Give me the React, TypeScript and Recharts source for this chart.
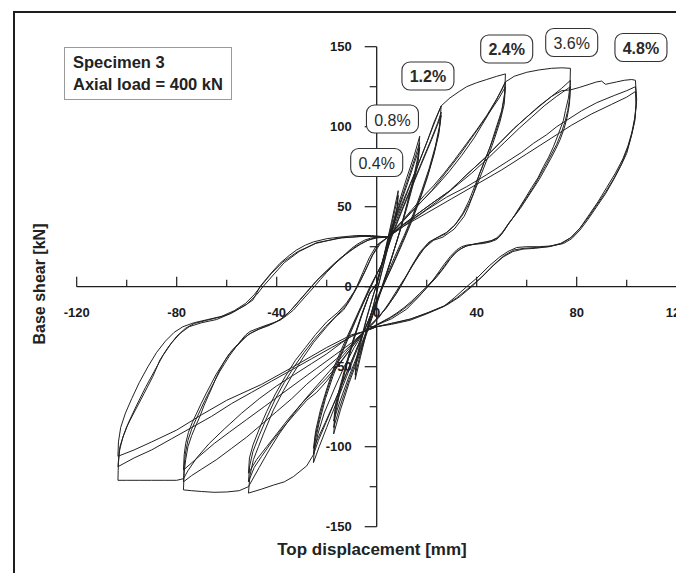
import { Line, LineChart, ReferenceDot, ReferenceLine, XAxis, YAxis } from "recharts";

type Pt = [number, number];

// axis ticks
const xTicks = [-120, -80, -40, 0, 40, 80, 120];
const xMinorTicks = [-100, -60, -20, 20, 60, 100];
const yTicks = [-150, -100, -50, 0, 50, 100, 150];
const yMinorTicks = [-125, -75, -25, 25, 75, 125];

// drift level tags (data coords of the box centre)
const driftLabels = [
  { text: "0.4%", x: 0, y: 77.6, bold: false },
  { text: "0.8%", x: 6.3, y: 104.8, bold: false },
  { text: "1.2%", x: 20.5, y: 131.7, bold: true },
  { text: "2.4%", x: 52, y: 148.6, bold: true },
  { text: "3.6%", x: 78, y: 152.6, bold: false },
  { text: "4.8%", x: 105.7, y: 149.5, bold: true },
];

// hysteresis cycles, [displacement mm, shear kN]
const loop04a: Pt[] = [[0, 2], [3, 20], [6, 41], [8.6, 60], [8.2, 50], [6.5, 38], [4, 22], [1.5, 6], [-1, -10], [-4, -28], [-6.5, -44], [-8.6, -58], [-8.2, -48], [-6.5, -36], [-4, -20], [-1.5, -6], [0, 2]];
const loop04b: Pt[] = [[0, 1], [3, 19], [6, 39], [8.6, 57], [8.1, 47], [6.3, 35], [3.8, 20], [1.2, 4], [-1.2, -11], [-4, -27], [-6.5, -42], [-8.6, -55], [-8.1, -45], [-6.3, -33], [-3.8, -18], [-1.3, -5], [0, 1]];
const loop08a: Pt[] = [[0, 2], [4, 26], [8, 48], [12, 68], [15, 82], [17.2, 94], [16.6, 82], [15, 70], [12.5, 54], [9.5, 36], [6, 18], [3, 3], [0, -11], [-3.5, -27], [-7, -43], [-11, -60], [-14.5, -77], [-17.2, -92], [-16.6, -80], [-15, -68], [-12.5, -52], [-9.5, -35], [-6, -18], [-3, -5], [0, 2]];
const loop08b: Pt[] = [[0, 2], [4, 25], [8, 46], [12, 65], [15, 79], [17.2, 90], [16.5, 79], [14.8, 67], [12.3, 52], [9.3, 35], [5.8, 17], [2.8, 3], [-0.2, -11], [-3.7, -27], [-7.2, -42], [-11, -58], [-14.5, -74], [-17.2, -88], [-16.5, -77], [-14.8, -65], [-12.3, -50], [-9.3, -33], [-5.8, -17], [-2.8, -4], [0, 2]];
const loop08c: Pt[] = [[0, 1], [4, 24], [8, 45], [12, 63], [15, 77], [17.2, 87], [16.4, 76], [14.6, 64], [12, 49], [9, 33], [5.5, 16], [2.5, 2], [-0.5, -12], [-4, -27], [-7.5, -42], [-11.3, -57], [-14.8, -72], [-17.2, -84], [-16.4, -73], [-14.6, -62], [-12, -47], [-9, -31], [-5.5, -15], [-2.5, -3], [0, 1]];
const loop12a: Pt[] = [[2, 14], [5, 30], [9, 46], [13, 62], [17, 78], [21, 94], [24, 106], [25.8, 113], [25.2, 101], [23.5, 88], [21, 74], [18, 60], [14.5, 45], [11, 32], [7, 18], [3.5, 5], [0, -8], [-4, -24], [-8, -40], [-12, -56], [-16, -72], [-20, -88], [-23, -100], [-25.3, -110], [-24.8, -98], [-23, -85], [-20.5, -70], [-17.5, -56], [-14, -42], [-10.5, -29], [-7, -16], [-3.5, -4], [-0.5, 6], [2, 14]];
const loop12b: Pt[] = [[2, 14], [5.5, 30], [9.5, 46], [13.5, 61], [17.5, 76], [21.5, 91], [24.3, 102], [25.8, 109], [25, 98], [23.2, 85], [20.7, 71], [17.7, 57], [14.3, 43], [10.8, 30], [7, 16], [3.3, 3], [-0.3, -10], [-4.3, -25], [-8.3, -40], [-12.3, -55], [-16.3, -70], [-20.3, -85], [-23.3, -96], [-25.3, -105], [-24.6, -94], [-22.8, -81], [-20.3, -67], [-17.3, -53], [-13.8, -40], [-10.3, -27], [-6.8, -15], [-3.3, -3], [-0.3, 7], [2, 14]];
const loop12c: Pt[] = [[2, 13], [6, 31], [10, 47], [14, 62], [18, 77], [22, 92], [24.8, 103], [25.8, 107], [24.8, 95], [22.8, 82], [20.2, 68], [17.2, 54], [13.8, 40], [10.3, 27], [6.6, 14], [3, 2], [-0.6, -11], [-4.6, -26], [-8.6, -41], [-12.6, -56], [-16.6, -71], [-20.6, -85], [-23.6, -95], [-25.3, -101], [-24.4, -90], [-22.5, -77], [-20, -64], [-17, -50], [-13.5, -37], [-10, -25], [-6.5, -13], [-3, -1], [0, 8], [2, 13]];

const loop24a: Pt[] = [[4.5, 31], [8, 44], [12, 59], [16, 74], [20, 90], [23, 103], [25.8, 113], [29.3, 118], [33, 122], [36, 125], [40, 127.5], [44, 129.5], [48, 131.5], [51.5, 133],
  [51.2, 121], [50, 110], [47.5, 98], [45.3, 87], [43, 78], [41, 70], [38.7, 58], [36.5, 49], [35, 44], [31, 36], [26.5, 31], [22.7, 29], [19, 24], [15, 15], [11.5, 6], [9, 0], [5, -10], [1, -19], [-2, -24], [-5, -28],
  [-9, -38], [-13, -50], [-17, -64], [-21, -79], [-23.5, -92], [-25.3, -105], [-28, -112], [-33.3, -118.7], [-37, -122], [-41.3, -124], [-46, -126.5], [-51.3, -129],
  [-50.7, -118], [-49.3, -108], [-47.3, -100], [-45.3, -92], [-41.3, -77], [-37.3, -65], [-33.3, -54], [-29.3, -44], [-25.3, -35], [-20, -25], [-16.5, -19], [-13.3, -14.6], [-10.5, -8], [-8, 0], [-5.5, 9], [-3, 18], [0, 26], [4.5, 31]];
const loop24b: Pt[] = [[4.5, 31], [9, 39], [14, 48], [19, 57], [22.7, 63], [27, 71], [31, 79], [36, 89.6], [40, 98], [44, 107], [47.5, 116], [50, 123], [51.5, 128],
  [51, 117], [49.5, 106], [47, 94], [44.5, 84], [42, 74], [39.5, 64], [37, 54], [34.5, 46], [31.5, 39], [28, 34], [24.5, 31], [21, 28], [17.5, 22], [14, 13], [11, 4], [8, -4], [4, -13], [0, -20], [-5, -28],
  [-9, -36], [-14.7, -48], [-20, -59], [-24, -66], [-28, -71], [-33, -80], [-38, -89], [-42, -97], [-46, -106], [-49, -113], [-51.3, -122],
  [-50.8, -112], [-49.5, -103], [-47, -93], [-44, -82], [-40.5, -70], [-37, -60], [-33, -50], [-29, -41], [-25, -33], [-20.5, -25], [-16, -18], [-12.5, -12], [-9.5, -5], [-7, 2], [-4.5, 10], [-2, 19], [1, 27], [4.5, 31]];
const loop24c: Pt[] = [[4.5, 31], [10, 40], [16, 50], [22, 60], [28, 72], [33, 82], [38, 93], [42, 102], [46, 111], [49, 118], [51.5, 125],
  [51, 114], [49.3, 103], [47, 92], [44.5, 81], [42, 71], [39.5, 61], [37, 52], [34, 44], [31, 38], [27.5, 33], [24, 30.5], [20.5, 27], [17, 20], [13.5, 11], [10.5, 3], [7.5, -5], [3.5, -14], [-0.5, -21], [-5, -28],
  [-10, -38], [-15, -48], [-20, -57], [-25, -65], [-30, -73], [-35, -82], [-40, -92], [-44, -100], [-48, -108], [-51.3, -116.6],
  [-50.9, -107], [-49.5, -99], [-47, -89], [-44, -78], [-40.5, -67], [-36.5, -56], [-32.5, -46], [-28.5, -38], [-24.5, -30], [-20, -22], [-15.5, -16], [-12, -10], [-9, -3], [-6.5, 4], [-4, 12], [-1.5, 20], [1.5, 27], [4.5, 31]];

const loop36a: Pt[] = [[4.5, 31], [9, 39], [14, 47], [19, 55], [24, 63], [29, 72], [34, 82], [39, 93], [44, 106], [48, 117], [51.5, 128], [55, 131.5], [60, 134], [65, 135.5], [70, 136.5], [74, 136.8], [77.5, 136.5],
  [77.3, 125], [76.7, 118], [75.5, 110], [74.7, 104], [72.8, 96], [70.7, 87.5], [68.8, 81], [66.7, 75], [64.5, 68], [62, 62], [59.7, 56], [57.3, 50], [54.7, 43.5], [52, 37.5], [50, 33], [48, 29.5], [45.5, 28], [42.7, 27], [39, 26.5], [36, 26], [34, 25], [32, 23], [29.5, 19], [27, 14], [24.5, 8.5], [22, 3], [19.5, -1.5], [17, -6], [14.5, -10], [12, -14], [9, -17], [6, -20], [3, -22], [0, -24], [-5, -28],
  [-9, -35], [-14, -44], [-19, -53], [-24, -62], [-29, -71], [-34, -81], [-39, -92], [-43, -102], [-47, -113], [-51.3, -125], [-55, -127.5], [-60, -128.3], [-65, -128.5], [-70, -128], [-74, -127.5], [-77.3, -127],
  [-77, -116], [-76.4, -108], [-75.5, -100], [-74, -93], [-72.4, -87], [-70.7, -81], [-69, -74], [-67.3, -68], [-65.6, -62], [-64, -56], [-62.4, -51], [-60.7, -46], [-59, -42], [-57.3, -39.6], [-55.5, -36], [-54, -33], [-52.3, -30], [-50.7, -28], [-47.5, -26], [-44, -24], [-41.3, -22.5], [-38.7, -21], [-36, -18], [-33.3, -14.6], [-31, -10.5], [-29, -7], [-27, -3.5], [-25, 0], [-22.5, 4.5], [-20, 9], [-17.5, 13], [-15, 17], [-12.5, 20.5], [-10, 24], [-7.5, 26.8], [-5, 29], [-2.5, 30.3], [0, 31], [4.5, 31]];
const loop36b: Pt[] = [[4.5, 31], [9.3, 37.5], [15, 44], [22, 52], [29.3, 60], [36, 70], [43, 80], [49.3, 90], [55, 99], [60, 106], [65.3, 113], [70, 119], [74, 124], [77.5, 129],
  [77.2, 118], [76.4, 110], [75.3, 103], [73.8, 96], [72, 89], [70, 83], [68, 77], [65.5, 70], [63, 63], [60.5, 57], [58, 51], [55.5, 45], [53, 40], [51, 35], [49, 31], [46.5, 29], [43.5, 28], [40, 27], [37, 26], [34.5, 24.5], [32, 22], [29.5, 17.5], [27, 12], [24, 6], [21, 1], [18, -4], [15, -8.5], [12, -12.5], [9, -16], [6, -19], [3, -21.5], [0, -24], [-5, -28],
  [-10, -36], [-16, -45], [-22, -53], [-28, -61], [-34, -70], [-40, -78], [-46, -86], [-52, -94], [-58, -101], [-64, -108], [-70, -114], [-74, -118], [-77.3, -122],
  [-77, -112], [-76.5, -104], [-75.5, -96], [-74, -89], [-72.3, -83], [-70.5, -77], [-68.7, -71], [-66.8, -65], [-64.8, -59], [-62.8, -53], [-60.8, -48], [-58.8, -43], [-56.5, -38], [-54, -34], [-51.5, -30], [-48.5, -27.5], [-45, -25], [-41.5, -23], [-38.5, -20.5], [-35.5, -16.5], [-33, -12.5], [-30.5, -8], [-28, -3.5], [-25.5, 1], [-23, 5.5], [-20, 10], [-17, 14.5], [-14, 18.5], [-11, 22], [-8, 25.5], [-5, 28], [-2, 30], [1, 31], [4.5, 31]];
const loop36c: Pt[] = [[4.5, 31], [10, 38], [17, 45], [24, 53], [31, 62], [38, 71], [45, 81], [51, 90], [57, 99], [62, 106], [67, 113], [72, 119], [77.5, 125],
  [77.1, 114], [76.2, 106], [75, 99], [73.4, 92], [71.6, 86], [69.6, 80], [67.5, 74], [65, 67], [62.5, 61], [60, 55], [57.5, 49], [55, 44], [52.5, 39], [50.3, 34], [48, 30.5], [45.5, 28.5], [42.5, 27.5], [39, 26.5], [36, 25.5], [33.5, 23.5], [31, 20.5], [28.5, 16], [26, 10.5], [23, 5], [20, 0], [17, -4.5], [14, -9], [11, -13], [8, -16.5], [5, -19.5], [2, -22], [-1, -24.5], [-5, -28],
  [-10, -35], [-17, -43], [-24, -51], [-31, -59], [-38, -67], [-45, -75], [-52, -83], [-59, -91], [-65, -98], [-71, -106], [-77.3, -114.6],
  [-77, -105], [-76.4, -98], [-75.3, -91], [-73.8, -85], [-72, -79], [-70.2, -73], [-68.3, -67], [-66.3, -61], [-64.3, -55], [-62.3, -50], [-60.2, -45], [-58, -40], [-55.6, -36], [-53, -32], [-50.3, -29], [-47, -26.5], [-43.5, -24.5], [-40.2, -22], [-37.2, -19], [-34.5, -15], [-32, -10.5], [-29.5, -6], [-27, -1.5], [-24.5, 3], [-21.5, 7.5], [-18.5, 12], [-15.5, 16], [-12.5, 20], [-9.5, 23.5], [-6.5, 26.5], [-3.5, 29], [0, 30.5], [4.5, 31]];

const loop48a: Pt[] = [[4.5, 31], [9.3, 37], [15, 44], [22, 52], [29.3, 60], [36, 70], [43, 80], [49.3, 90], [55, 99], [60, 106], [65, 113], [70, 119], [74, 122.5], [77.5, 123], [81, 124.5], [85, 126.5], [88, 128], [90, 128.5], [91.5, 126.5], [93, 127], [96, 128], [99, 129], [102, 129.5], [103.5, 129],
  [103.8, 121], [103.7, 113], [103.3, 106], [102.7, 100], [101.5, 92], [100, 83.3], [97.5, 75], [94.7, 66.7], [91.5, 58], [88, 50], [84.5, 42], [81.3, 35.4], [78, 30], [74.7, 27], [70, 25.5], [65, 25], [60, 25], [56, 24.5], [52.5, 22], [49.3, 18.7], [45, 13], [40.5, 6], [36, 0], [31, -7], [26.7, -12.5], [20, -17], [13.3, -21], [6, -23.5], [0, -25], [-5, -28],
  [-9.3, -30], [-14, -35], [-20, -42], [-26, -48], [-33, -55], [-40, -62], [-47, -70], [-54, -79], [-61, -89], [-67, -98], [-72, -107], [-75.5, -115], [-77.3, -120], [-80, -121], [-85, -121], [-90, -121], [-95, -121], [-100, -121], [-103.5, -121],
  [-103.4, -115], [-103.3, -110], [-102.7, -100], [-101.5, -94], [-100, -87.5], [-96.5, -77], [-93, -66.6], [-89.5, -56], [-86.7, -45.8], [-83.5, -38], [-80, -31], [-76.5, -26], [-73, -23], [-68, -21], [-62.7, -19], [-59, -17], [-56, -14.6], [-52.5, -11.5], [-49.5, -8.3], [-46.7, 0], [-42.5, 8], [-38.7, 14.6], [-35, 19.5], [-32, 23], [-28.5, 26], [-25.3, 28], [-20, 30], [-14.7, 31], [-8, 32], [-2, 32], [4.5, 31]];
const loop48b: Pt[] = [[4.5, 31], [10, 37], [20, 48], [28, 56], [36, 62.5], [44, 70], [52, 78], [58, 84], [62.7, 89.6], [68, 95], [72, 100], [76, 104], [82, 110], [88, 115], [95, 119.5], [100, 122.5], [103.5, 125],
  [104, 117], [103.3, 106], [102, 96], [100.5, 88], [98.5, 80], [95.5, 71], [92, 62], [88.5, 53], [85, 45], [81.5, 37], [78, 31], [74, 27], [69, 25], [64, 24.5], [59, 24], [55, 23], [51, 19.5], [47, 14], [42, 6], [37.5, 0], [32, -7], [27, -12], [20, -16.5], [13, -20.5], [6, -23], [0, -25], [-5, -28],
  [-10, -31], [-18, -38], [-26, -45], [-34, -52], [-42, -59], [-50, -66], [-58, -73], [-66, -81], [-74, -88], [-82, -95], [-90, -102], [-97, -107], [-103.5, -112.5],
  [-103, -103], [-101.5, -94], [-99, -84], [-96, -74], [-92.5, -63], [-89, -53], [-85.5, -43], [-82, -35], [-78.5, -29], [-75, -25], [-70, -22.5], [-64, -20.5], [-58, -16.5], [-52, -11], [-48, -5], [-45.5, 0], [-41, 8], [-37, 15], [-31, 22], [-24, 27.5], [-14, 30.5], [-5, 31.5], [4.5, 31]];
const loop48c: Pt[] = [[4.5, 31], [11, 38], [20, 46], [30, 55], [40, 64], [50, 73], [60, 83], [70, 93], [78, 101], [86, 108], [94, 114], [100, 118.5], [103.5, 122],
  [103.8, 114], [103.3, 104], [102, 95], [100.3, 86], [98, 77], [95, 68], [91.5, 59], [88, 51], [84.5, 43], [81, 36], [77.5, 30.5], [73.5, 27], [68.5, 25], [63.5, 24], [58.5, 23.5], [54.5, 22], [50.5, 18.5], [46.5, 13], [42, 6], [38, 0], [33, -6.5], [28, -11.5], [21, -16], [14, -20], [7, -22.5], [0, -25], [-5, -28],
  [-10, -30], [-20, -38], [-33.3, -50], [-46, -61], [-60, -71], [-70, -80], [-80, -89.6], [-90, -97], [-97, -102], [-103.5, -106],
  [-103.3, -97], [-102.4, -88], [-100.5, -79], [-98, -70], [-95, -60], [-91.5, -50], [-88, -41], [-84.5, -34], [-81, -28.5], [-77.5, -25], [-73, -22.5], [-67.5, -20.5], [-62, -18.5], [-57, -15], [-52.5, -10.5], [-49, -5], [-46, 1], [-42, 8.5], [-37.5, 15.5], [-31.5, 22], [-24.5, 27], [-15, 30.5], [-6, 31.5], [4.5, 31]];

const loops = [loop04a, loop04b, loop08a, loop08b, loop08c, loop12a, loop12b, loop12c, loop24a, loop24b, loop24c, loop36a, loop36b, loop36c, loop48a, loop48b, loop48c];

const toRows = (pts: Pt[]) => pts.map(([x, y]) => ({ x, y }));

const ink = "#1d1d1d";
const tickFont = "'Liberation Sans Narrow', 'Liberation Sans', Arial, sans-serif";

const XTickMark = ({ cx, cy, len, label }: any) => (
  <g>
    <line x1={cx} y1={cy} x2={cx} y2={cy - len} stroke={ink} strokeWidth={1.2} />
    {label !== undefined && (
      <text x={cx} y={cy + 26} textAnchor="middle" dominantBaseline="central" fontFamily={tickFont} fontWeight="bold" fontSize={13} fill="#1a1a22">
        {label}
      </text>
    )}
  </g>
);

const YTickMark = ({ cx, cy, len, label }: any) => (
  <g>
    <line x1={cx} y1={cy} x2={cx - len} y2={cy} stroke={ink} strokeWidth={1.2} />
    {label !== undefined && (
      <text x={cx - 25} y={cy} textAnchor="end" dominantBaseline="central" fontFamily={tickFont} fontWeight="bold" fontSize={13} fill="#1a1a22">
        {label}
      </text>
    )}
  </g>
);

const DriftTag = ({ cx, cy, text, bold }: any) => (
  <g>
    <rect x={cx - 26} y={cy - 14} width={52} height={28} rx={8} ry={8} fill="#fff" stroke="#333" strokeWidth={1.1} />
    <text x={cx} y={cy + 1} textAnchor="middle" dominantBaseline="central" fontFamily="'Liberation Sans', Arial, sans-serif" fontSize={16} fontWeight={bold ? "bold" : "normal"} fill="#2a2a2a">
      {text}
    </text>
  </g>
);

export default function App() {
  return (
    <div style={{ position: "absolute", left: 0, top: 0, width: 676, height: 573, overflow: "hidden", background: "#fff", fontFamily: "'Liberation Sans', Arial, sans-serif" }}>
      <div style={{ position: "absolute", left: 13, top: 11, width: 700, height: 600, borderTop: "2px solid #1e1e1e", borderLeft: "2px solid #1e1e1e" }} />
      <LineChart width={750} height={573} margin={{ top: 46.7, right: 73.3, bottom: 46.3, left: 76.7 }} style={{ position: "absolute", left: 0, top: 0 }}>
        <XAxis type="number" dataKey="x" domain={[-120, 120]} allowDataOverflow hide />
        <YAxis type="number" domain={[-150, 150]} allowDataOverflow hide />
        {loops.map((pts, i) => (
          <Line key={i} data={toRows(pts)} dataKey="y" type="linear" dot={false} activeDot={false} stroke="#222" strokeWidth={1} isAnimationActive={false} />
        ))}
        <ReferenceLine segment={[{ x: -120, y: 0 }, { x: 120, y: 0 }]} stroke={ink} strokeWidth={1.3} ifOverflow="visible" />
        <ReferenceLine segment={[{ x: 0, y: -150 }, { x: 0, y: 150 }]} stroke={ink} strokeWidth={1.3} ifOverflow="visible" />
        {xTicks.map((t) => (
          <ReferenceDot key={"xt" + t} x={t} y={0} r={0} ifOverflow="visible" shape={(p: any) => <XTickMark cx={p.cx} cy={p.cy} len={10} label={t} />} />
        ))}
        {xMinorTicks.map((t) => (
          <ReferenceDot key={"xm" + t} x={t} y={0} r={0} ifOverflow="visible" shape={(p: any) => <XTickMark cx={p.cx} cy={p.cy} len={7} />} />
        ))}
        {yTicks.map((t) => (
          <ReferenceDot key={"yt" + t} x={0} y={t} r={0} ifOverflow="visible" shape={(p: any) => <YTickMark cx={p.cx} cy={p.cy} len={12} label={t} />} />
        ))}
        {yMinorTicks.map((t) => (
          <ReferenceDot key={"ym" + t} x={0} y={t} r={0} ifOverflow="visible" shape={(p: any) => <YTickMark cx={p.cx} cy={p.cy} len={7} />} />
        ))}
        {driftLabels.map((d) => (
          <ReferenceDot key={d.text} x={d.x} y={d.y} r={0} ifOverflow="visible" shape={(p: any) => <DriftTag cx={p.cx} cy={p.cy} text={d.text} bold={d.bold} />} />
        ))}
      </LineChart>
      <div style={{ position: "absolute", left: 64, top: 47, width: 168, height: 53, boxSizing: "border-box", border: "1.5px solid #9a9a9a", padding: "3px 0 0 8px", fontWeight: "bold", fontSize: 16.5, lineHeight: "22px", color: "#222", background: "#fff", whiteSpace: "nowrap" }}>
        <div>Specimen 3</div>
        <div>Axial load = 400 kN</div>
      </div>
      <div style={{ position: "absolute", left: 372, top: 540, transform: "translateX(-50%)", whiteSpace: "nowrap", fontWeight: "bold", fontSize: 17, lineHeight: "20px", color: "#222" }}>
        Top displacement [mm]
      </div>
      <div style={{ position: "absolute", left: 40, top: 284, transform: "translate(-50%, -50%) rotate(-90deg)", whiteSpace: "nowrap", fontWeight: "bold", fontSize: 16, lineHeight: "18px", color: "#222" }}>
        Base shear [kN]
      </div>
    </div>
  );
}
